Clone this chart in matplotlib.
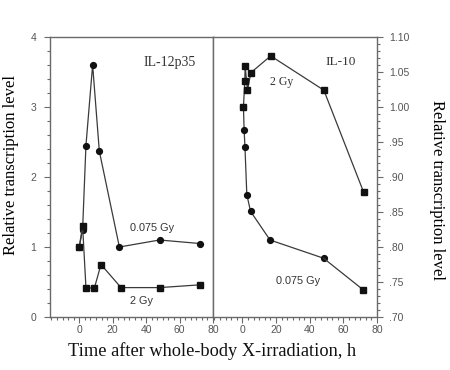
import matplotlib
matplotlib.use("Agg")
import matplotlib.pyplot as plt
from matplotlib.ticker import MultipleLocator, FuncFormatter

# Left panel: IL-12p35
il12_t_low = [0, 2, 4, 8, 12, 24, 48, 72]
il12_low = [1.0, 1.25, 2.45, 3.6, 2.37, 1.0, 1.10, 1.05]
il12_t_high = [0, 2, 4, 9, 13, 25, 48, 72.5]
il12_high = [1.0, 1.30, 0.42, 0.41, 0.75, 0.42, 0.42, 0.46]

# Right panel: IL-10
il10_t_low = [0.6, 1.0, 1.5, 2.6, 4.8, 16.4, 48.2, 71.7]
il10_low = [1.00, 0.967, 0.943, 0.875, 0.851, 0.810, 0.784, 0.739]
il10_t_high = [0.6, 1.4, 1.6, 3.0, 5.0, 16.8, 48.4, 72.1]
il10_high = [1.00, 1.037, 1.059, 1.024, 1.049, 1.073, 1.024, 0.878]

x_ticks = [0, 20, 40, 60, 80]
left_yticks = [0, 1, 2, 3, 4]
right_yticks = [0.70, 0.75, 0.80, 0.85, 0.90, 0.95, 1.00, 1.05, 1.10]

W, H = 450, 370
fig = plt.figure(figsize=(4.5, 3.7), dpi=100)
ax1 = fig.add_axes([50 / W, 1 - 317 / H, 163 / W, 280 / H])
ax2 = fig.add_axes([213 / W, 1 - 317 / H, 164 / W, 280 / H])

spine_c = "#6a6a6a"
tick_c = "#555555"
line_c = "#3a3a3a"
mk_c = "#111111"
serif = ["Liberation Serif", "DejaVu Serif"]
sans = ["Liberation Sans", "DejaVu Sans"]

for ax in (ax1, ax2):
    ax.set_xlim(-17.5, 80)
    ax.set_xticks(x_ticks)
    ax.xaxis.set_minor_locator(MultipleLocator(20 / 6))
    for s in ax.spines.values():
        s.set_color(spine_c)
        s.set_linewidth(1.0)
    ax.tick_params(which="both", direction="out", colors=spine_c, labelcolor=tick_c,
                   labelsize=7.5, width=0.8)
    ax.tick_params(which="major", length=4, pad=2)
    ax.tick_params(which="minor", length=2.5)
    for lab in ax.get_xticklabels():
        lab.set_family(sans)

# Left
ax1.plot(il12_t_low, il12_low, "-", color=line_c, lw=0.9, marker="o", ms=4.2,
         mfc=mk_c, mec=mk_c)
ax1.plot(il12_t_high, il12_high, "-", color=line_c, lw=0.9, marker="s", ms=4.2,
         mfc=mk_c, mec=mk_c)
ax1.set_ylim(0, 4)
ax1.set_yticks(left_yticks)
ax1.yaxis.set_minor_locator(MultipleLocator(0.2))
ax1.tick_params(axis="y", which="both", left=True, right=False)
ax1.tick_params(axis="y", which="major", pad=6)
ax1.tick_params(axis="x", which="both", bottom=True, top=False)
ax1.set_ylabel("Relative transcription level", family=serif, fontsize=12)
ax1.yaxis.set_label_coords(-0.19, 0.543)
ax1.text(0.735, 0.91, "IL-12p35", transform=ax1.transAxes, family=serif, fontsize=10,
         ha="center", va="center", color="#333333")
ax1.text(0.626, 0.319, "0.075 Gy", transform=ax1.transAxes, family=sans, fontsize=7.8,
         ha="center", va="center", color="#333333")
ax1.text(0.564, 0.058, "2 Gy", transform=ax1.transAxes, family=sans, fontsize=7.8,
         ha="center", va="center", color="#333333")

# Right
ax2.plot(il10_t_low[:-1], il10_low[:-1], "-", color=line_c, lw=0.9, marker="o", ms=4.2,
         mfc=mk_c, mec=mk_c)
ax2.plot(il10_t_low[-2:], il10_low[-2:], "-", color=line_c, lw=0.9)
ax2.plot(il10_t_low[-1:], il10_low[-1:], "s", ms=4.2, mfc=mk_c, mec=mk_c)
ax2.plot(il10_t_high, il10_high, "-", color=line_c, lw=0.9, marker="s", ms=4.2,
         mfc=mk_c, mec=mk_c)
ax2.set_ylim(0.70, 1.10)
ax2.set_yticks(right_yticks)
ax2.yaxis.set_minor_locator(MultipleLocator(0.01))
ax2.yaxis.set_major_formatter(FuncFormatter(
    lambda v, p: ("%.2f" % v) if v >= 0.995 else ("%.2f" % v)[1:]))
ax2.yaxis.tick_right()
ax2.tick_params(axis="y", which="both", left=False, right=True, labelleft=False,
                labelright=True, pad=5)
for lab in ax2.get_yticklabels():
    lab.set_family(sans)
for lab in ax1.get_yticklabels():
    lab.set_family(sans)
ax2.yaxis.set_label_position("right")
ax2.set_ylabel("Relative transcription level", family=serif, fontsize=12, rotation=-90)
ax2.yaxis.set_label_coords(1.415, 0.454)
ax2.text(0.78, 0.91, "IL-10", transform=ax2.transAxes, family=serif, fontsize=9.5,
         ha="center", va="center", color="#333333")
ax2.text(0.42, 0.84, "2 Gy", transform=ax2.transAxes, family=serif, fontsize=8.5,
         ha="center", va="center", color="#333333")
ax2.text(0.52, 0.127, "0.075 Gy", transform=ax2.transAxes, family=sans, fontsize=7.8,
         ha="center", va="center", color="#333333")

fig.text(212 / W, 1 - 351 / H, "Time after whole-body X-irradiation, h", family=serif,
         fontsize=13.2, ha="center", va="center", color="#111111")

fig.savefig("out.png", dpi=100)
